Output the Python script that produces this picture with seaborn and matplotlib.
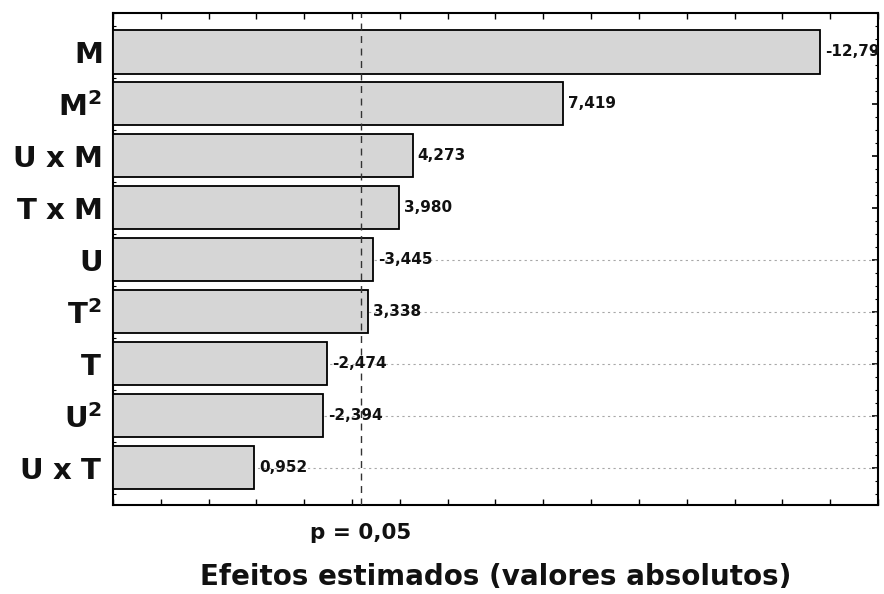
import matplotlib
matplotlib.use("Agg")
import matplotlib.pyplot as plt
import matplotlib.transforms as mtransforms
from matplotlib.ticker import MultipleLocator
import seaborn as sns
import pandas as pd

# ---- data ----
factors = [r"$\mathbf{M}$", r"$\mathbf{M^{2}}$", r"$\mathbf{U\ x\ M}$", r"$\mathbf{T\ x\ M}$",
           r"$\mathbf{U}$", r"$\mathbf{T^{2}}$", r"$\mathbf{T}$", r"$\mathbf{U^{2}}$", r"$\mathbf{U\ x\ T}$"]
effects = [-12.79, 7.419, 4.273, 3.980, -3.445, 3.338, -2.474, -2.394, 0.952]
value_labels = ["-12,79", "7,419", "4,273", "3,980", "-3,445", "3,338", "-2,474", "-2,394", "0,952"]
p_crit = 3.182
p_label = "p = 0,05"
x_label = "Efeitos estimados (valores absolutos)"
x_min, x_max = -2, 14
guide_rows = [4, 5, 6, 7, 8]

df = pd.DataFrame({"factor": factors, "abs_effect": [abs(v) for v in effects]})

sns.set_theme(style="white")
plt.rcParams["font.family"] = ["DejaVu Sans"]
plt.rcParams["mathtext.fontset"] = "dejavusans"

fig = plt.figure(figsize=(8.84, 5.94), dpi=100)
ax = fig.add_axes([0.1278, 0.1498, 0.8654, 0.8283])

sns.barplot(data=df, x="abs_effect", y="factor", orient="h", color="#d6d6d6",
            edgecolor="black", linewidth=1.3, width=0.83, saturation=1, ax=ax, zorder=3)
# bars start at the left edge of the axis (Statistica style)
for patch in ax.patches:
    w = patch.get_width()
    patch.set_x(x_min)
    patch.set_width(w - x_min)

ax.set_xlim(x_min, x_max)
ax.set_ylim(len(factors) - 1 + 0.72, -0.75)

# dotted guide lines at bar centres
for i in guide_rows:
    ax.axhline(i, color="#a8a8a8", linestyle=(0, (2, 3)), linewidth=0.8, zorder=1)

# critical value line
ax.axvline(p_crit, color="#333333", linestyle=(0, (5, 4)), linewidth=1.0, zorder=4)

# value labels
for i, (v, txt) in enumerate(zip(effects, value_labels)):
    ax.text(abs(v) + 0.1, i, txt, va="center", ha="left", fontsize=11,
            fontweight="bold", color="#111111", zorder=5, clip_on=False)

# p label under axis
trans = mtransforms.blended_transform_factory(ax.transData, ax.transAxes)
ax.text(p_crit, -0.057, p_label, transform=trans, ha="center", va="center",
        fontsize=15.5, fontweight="bold", color="#111111", clip_on=False)

# axis label
ax.set_xlabel(x_label, fontsize=20, fontweight="bold", color="#111111")
ax.xaxis.set_label_coords(0.5, -0.146)
ax.xaxis.label.set_va("center")
ax.set_ylabel("")

# ticks
ax.xaxis.set_major_locator(MultipleLocator(1))
ax.set_xticklabels([])
ax.yaxis.set_minor_locator(MultipleLocator(1 / 4))
ax.tick_params(axis="x", which="major", direction="in", top=True, bottom=True,
               length=4, width=1, color="black")
ax.tick_params(axis="y", which="major", direction="in", left=True, right=True,
               length=4, width=1.2, color="black", labelsize=21, pad=8,
               labelcolor="#111111")
ax.tick_params(axis="y", which="minor", direction="in", left=True, right=True,
               length=2.5, width=0.8, color="black")

for s in ax.spines.values():
    s.set_visible(True)
    s.set_color("black")
    s.set_linewidth(1.5)

ax.set_facecolor("white")
fig.patch.set_facecolor("white")
fig.savefig("out.png", dpi=100)
